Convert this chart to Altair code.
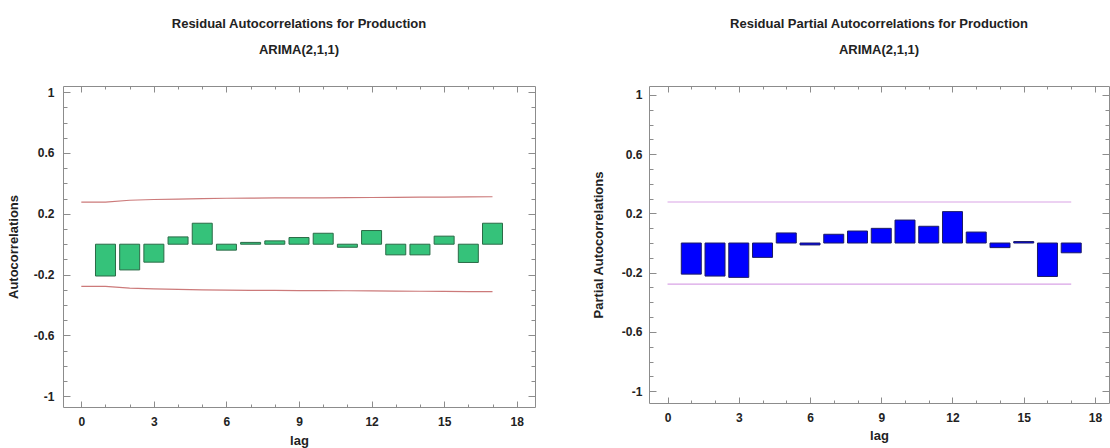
import altair as alt
import pandas as pd

# ---------------- data ----------------
lags = list(range(1, 18))
acf_values = [-0.209, -0.169, -0.118, 0.048, 0.138, -0.039, 0.012, 0.022, 0.044,
              0.072, -0.020, 0.090, -0.070, -0.070, 0.053, -0.120, 0.138]
pacf_values = [-0.210, -0.223, -0.232, -0.097, 0.068, -0.013, 0.059, 0.081, 0.099,
               0.155, 0.113, 0.212, 0.074, -0.031, 0.010, -0.226, -0.066]
limit_lags = list(range(0, 18))
acf_limits = [0.277, 0.277, 0.289, 0.294, 0.297, 0.300, 0.302, 0.303, 0.304,
              0.305, 0.305, 0.306, 0.307, 0.308, 0.309, 0.310, 0.311, 0.312]
pacf_limits = [0.277] * 18

x_label_values = [0, 3, 6, 9, 12, 15, 18]
x_minor_values = list(range(0, 19))
y_label_values = [-1, -0.6, -0.2, 0.2, 0.6, 1]
y_minor_values = [round(-1 + 0.1 * i, 1) for i in range(21)]

FONT = "Liberation Sans"
TICK = "#8c8c8c"


def hidden_axis(orient, values, size, offset):
    return alt.Axis(orient=orient, values=values, tickSize=size, offset=offset,
                    labels=False, domain=False, grid=False, title=None,
                    tickColor=TICK, tickWidth=1)


def panel(values, fill, stroke, limits, line_color, title, ytitle,
          W, H, xdom, ydom, ylab_pad, ytitle_pad, xlab_pad, xtitle_pad):
    bars_df = pd.DataFrame({"lag": lags, "value": values})
    lim_df = pd.DataFrame({
        "lag": limit_lags + limit_lags,
        "value": limits + [-v for v in limits],
        "side": ["upper"] * len(limit_lags) + ["lower"] * len(limit_lags),
    })
    xs = alt.Scale(domain=xdom, nice=False, zero=False)
    ys = alt.Scale(domain=ydom, nice=False, zero=False)

    bars = alt.Chart(bars_df).mark_bar(size=20, fill=fill, stroke=stroke, strokeWidth=1).encode(
        x=alt.X("lag:Q", scale=xs, axis=alt.Axis(
            orient="bottom", values=x_label_values, ticks=False, domain=False, grid=False,
            labelPadding=xlab_pad, title="lag", titlePadding=xtitle_pad,
            labelExpr="'' + datum.value")),
        y=alt.Y("value:Q", scale=ys, axis=alt.Axis(
            orient="left", values=y_label_values, ticks=False, domain=False, grid=False,
            labelPadding=ylab_pad, title=ytitle, titlePadding=ytitle_pad,
            labelExpr="'' + datum.value")),
        y2=alt.Y2(datum=0),
    )
    lines = alt.Chart(lim_df).mark_line(color=line_color, strokeWidth=1.2).encode(
        x=alt.X("lag:Q", scale=xs, axis=hidden_axis("top", x_label_values, 6, -H)),
        y=alt.Y("value:Q", scale=ys, axis=hidden_axis("right", y_label_values, 7, -W)),
        detail="side:N",
    )
    inv1 = alt.Chart(bars_df).mark_point(opacity=0).encode(
        x=alt.X("lag:Q", scale=xs, axis=hidden_axis("top", x_minor_values, 3, -H)),
        y=alt.Y("value:Q", scale=ys, axis=hidden_axis("right", y_minor_values, 4, -W)),
    )
    inv2 = alt.Chart(bars_df).mark_point(opacity=0).encode(
        x=alt.X("lag:Q", scale=xs, axis=hidden_axis("bottom", x_label_values, 6, -H)),
        y=alt.Y("value:Q", scale=ys, axis=hidden_axis("left", y_label_values, 7, -W)),
    )
    inv3 = alt.Chart(bars_df).mark_point(opacity=0).encode(
        x=alt.X("lag:Q", scale=xs, axis=hidden_axis("bottom", x_minor_values, 3, -H)),
        y=alt.Y("value:Q", scale=ys, axis=hidden_axis("left", y_minor_values, 4, -W)),
    )
    return alt.layer(lines, bars, inv1, inv2, inv3).resolve_axis(
        x="independent", y="independent"
    ).properties(
        width=W, height=H,
        title=alt.TitleParams(
            text=title, subtitle="ARIMA(2,1,1)", anchor="middle", frame="group",
            font=FONT, subtitleFont=FONT, fontSize=13, subtitleFontSize=13,
            fontWeight="bold", subtitleFontWeight="bold",
            color="#222222", subtitleColor="#222222",
            subtitlePadding=13, offset=29,
        ),
    )


left = panel(acf_values, "#35c27a", "#2b6b47", acf_limits, "#cc7a7a",
             "Residual Autocorrelations for Production", "Autocorrelations",
             472, 321, [-0.55, 18.55], [-1.07, 1.04], 9, 13, 9, 7)
right = panel(pacf_values, "#0000ff", "#1c1c66", pacf_limits, "#d9a3e6",
              "Residual Partial Autocorrelations for Production", "Partial Autocorrelations",
              460, 317, [-0.57, 18.38], [-1.08, 1.06], 7, 16, 9, 6)

chart = alt.hconcat(left, right, spacing=114, bounds="flush").properties(
    padding={"left": 6, "top": 17, "right": 0, "bottom": 0},
    background="white",
).configure_view(
    stroke="#8c8c8c", strokeWidth=1
).configure_axis(
    labelFont=FONT, labelFontWeight="bold", labelFontSize=12, labelColor="#222222",
    titleFont=FONT, titleFontWeight="bold", titleFontSize=13, titleColor="#222222",
)

chart.save("out.html", embed_options={"renderer": "svg", "actions": False})
